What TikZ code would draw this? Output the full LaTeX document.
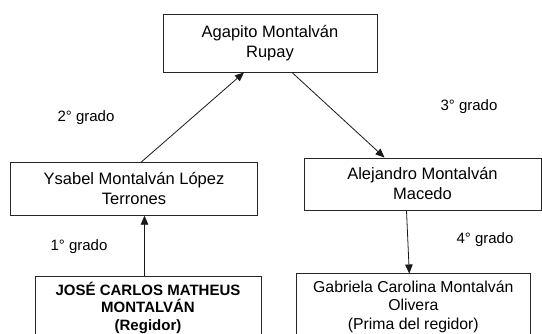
\documentclass[tikz,border=0pt]{standalone}
\usepackage{fontspec}
\setmainfont{Liberation Sans}
\usetikzlibrary{positioning,arrows.meta}

\begin{document}
\begin{tikzpicture}[x=1pt,y=-1pt,
  persona/.style={draw=black!85, line width=0.9pt, align=center, fill=white,
    font=\fontsize{16.5}{20}\selectfont},
  regidor/.style={persona, font=\fontsize{15}{17.5}\selectfont\bfseries},
  prima/.style={persona, font=\fontsize{15.8}{18.5}\selectfont},
  grado/.style={font=\fontsize{15}{18}\selectfont},
  flecha/.style={draw=black!90, line width=0.8pt, -{Triangle[length=9pt,width=7.5pt]}}]
\path[use as bounding box, clip] (0,0) rectangle (542,334);

% familia
\node[persona, minimum width=214pt, minimum height=58pt] (agapito) at (270,43) {Agapito Montalván\\Rupay};
\node[persona, minimum width=247pt, minimum height=52.5pt] (ysabel) at (134,189) {Ysabel Montalván López\\Terrones};
\node[persona, minimum width=237pt, minimum height=52pt] (alejandro) at (422.5,184) {Alejandro Montalván\\Macedo};
\node[regidor, anchor=north, minimum width=226pt, minimum height=62pt] (jose) at (148,276) {JOSÉ CARLOS MATHEUS\\MONTALVÁN\\(Regidor)};
\node[prima, anchor=north, minimum width=233.5pt, minimum height=65pt] (gabriela) at (413.3,273.5) {Gabriela Carolina Montalván\\Olivera\\(Prima del regidor)};

% grados
\node[grado] (g2) at (86,117.5) {2° grado};
\node[grado] (g3) at (469,107) {3° grado};
\node[grado] (g1) at (79,247) {1° grado};
\node[grado] (g4) at (485,240) {4° grado};

% flechas
\draw[flecha] ([xshift=7pt]ysabel.north) -- ([xshift=-26pt]agapito.south);
\draw[flecha] ([xshift=22pt]agapito.south) -- ([xshift=-38pt]alejandro.north);
\draw[flecha] ([xshift=-3.5pt]jose.north) -- ([xshift=10.5pt]ysabel.south);
\draw[flecha] ([xshift=-16pt]alejandro.south) -- ([xshift=-4pt]gabriela.north);

\end{tikzpicture}
\end{document}
